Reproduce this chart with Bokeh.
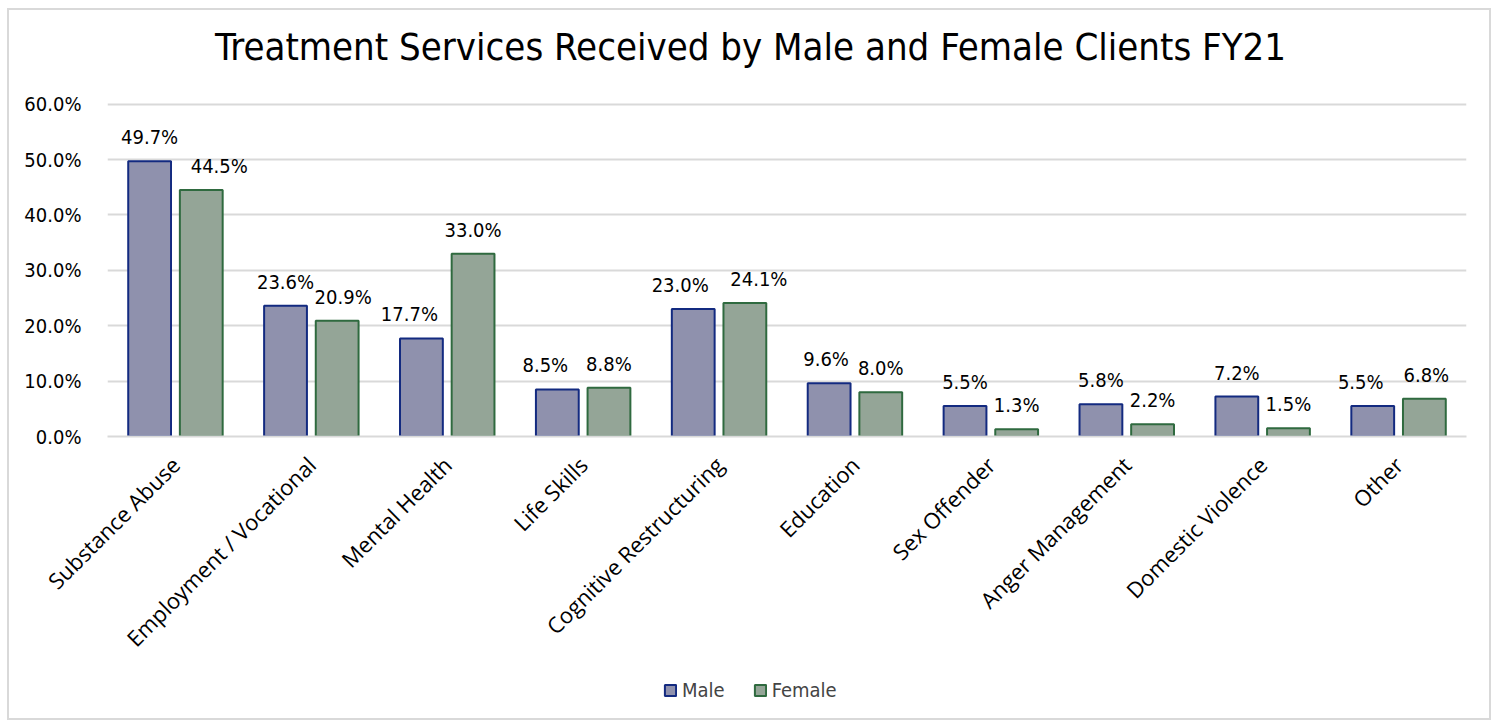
from bokeh.plotting import figure
from bokeh.layouts import column
from bokeh.models import (ColumnDataSource, FactorRange, LabelSet, Label, Legend, LegendItem,
                          PrintfTickFormatter, FixedTicker, Range1d)
from bokeh.core.properties import value
from bokeh.transform import dodge
from bokeh.embed import file_html
from bokeh.resources import INLINE

title_text = "Treatment Services Received by Male and Female Clients FY21"
categories = ["Substance Abuse", "Employment / Vocational", "Mental Health", "Life Skills",
              "Cognitive Restructuring", "Education", "Sex Offender", "Anger Management",
              "Domestic Violence", "Other"]
male = [49.7, 23.6, 17.7, 8.5, 23.0, 9.6, 5.5, 5.8, 7.2, 5.5]
female = [44.5, 20.9, 33.0, 8.8, 24.1, 8.0, 1.3, 2.2, 1.5, 6.8]
y_ticks = [0, 10, 20, 30, 40, 50, 60]
series_names = ["Male", "Female"]

# label nudges (pixels) as placed in the original chart
male_label_dx = [0, 0, -12, -12, -13, -3, 0, 0, 0, -12]
female_label_dx = [18, 6, 0, 0, 14, 0, 0, 0, 0, 2]

FONT = "DejaVu Sans Condensed"
XFONT = "Open Sans"
MALE_FILL, MALE_LINE = "#8f91ad", "#132a80"
FEMALE_FILL, FEMALE_LINE = "#94a597", "#2f6a3f"
W = 1480

# title strip (its frame is aligned with the chart frame by the column layout)
tt = figure(width=W, height=72, output_backend="svg", toolbar_location=None,
            x_range=Range1d(0, 1), y_range=Range1d(0, 1),
            x_axis_location=None, y_axis_location=None,
            min_border=0, min_border_left=0, min_border_right=0,
            min_border_top=0, min_border_bottom=0)
tt.grid.visible = False
tt.outline_line_color = None
tt.add_layout(Label(x=643, y=36, x_units="screen", y_units="screen", text=title_text,
                    text_align="center", text_baseline="alphabetic",
                    text_font=FONT, text_font_size="38px", text_color="#000000"))

src = ColumnDataSource(dict(cat=categories, male=male, female=female))

p = figure(x_range=FactorRange(*categories, range_padding=0), y_range=Range1d(0, 60.3),
           width=W, height=589, output_backend="svg", toolbar_location=None,
           min_border_left=98, min_border_right=23, min_border_top=20, min_border_bottom=235)
p.outline_line_color = None

rm = p.vbar(x=dodge("cat", -0.19, range=p.x_range), top="male", width=0.315, source=src,
            fill_color=MALE_FILL, line_color=MALE_LINE, line_width=2)
rf = p.vbar(x=dodge("cat", 0.19, range=p.x_range), top="female", width=0.315, source=src,
            fill_color=FEMALE_FILL, line_color=FEMALE_LINE, line_width=2)

for vals, off, dxs in ((male, -0.19, male_label_dx), (female, 0.19, female_label_dx)):
    lsrc = ColumnDataSource(dict(cat=categories, v=vals, t=["%.1f%%" % v for v in vals], dx=dxs))
    p.add_layout(LabelSet(x=dodge("cat", off, range=p.x_range),
                          y="v", text="t", x_offset="dx", source=lsrc,
                          text_align="center", text_baseline="bottom", y_offset=12,
                          text_font=value(FONT), text_font_size=value("20px"),
                          text_color="#000000"))

p.yaxis.ticker = FixedTicker(ticks=y_ticks)
p.yaxis.formatter = PrintfTickFormatter(format="%.1f%%")
p.yaxis.axis_line_color = None
p.yaxis.major_tick_line_color = None
p.yaxis.minor_tick_line_color = None
p.yaxis.major_label_text_font = FONT
p.yaxis.major_label_text_font_size = "20px"
p.yaxis.major_label_text_color = "#000000"
p.yaxis.major_label_standoff = 20

p.xaxis.axis_line_color = "#d9d9d9"
p.xaxis.axis_line_width = 2
p.xaxis.major_tick_line_color = None
p.xaxis.minor_tick_line_color = None
p.xaxis.major_label_orientation = 0.785398
p.xaxis.major_label_text_font = XFONT
p.xaxis.major_label_text_font_size = "22px"
p.xaxis.major_label_text_color = "#000000"
p.xaxis.major_label_standoff = 18

p.xgrid.grid_line_color = None
p.ygrid.grid_line_color = "#d9d9d9"
p.ygrid.grid_line_width = 2

# legend strip below the chart (legend renderers draw no bars: NaN heights)
legend_src = ColumnDataSource(dict(cat=[categories[0]], male=[float("nan")], female=[float("nan")]))
lg = figure(width=W, height=47, output_backend="svg", toolbar_location=None,
            x_range=p.x_range, y_range=Range1d(0, 1), min_border=0,
            min_border_left=0, min_border_right=0, min_border_top=0, min_border_bottom=0)
lg.axis.visible = False
lg.grid.visible = False
lg.outline_line_color = None
lm = lg.vbar(x="cat", top="male", width=0.315, source=legend_src,
             fill_color=MALE_FILL, line_color=MALE_LINE, line_width=2)
lf = lg.vbar(x="cat", top="female", width=0.315, source=legend_src,
             fill_color=FEMALE_FILL, line_color=FEMALE_LINE, line_width=2)
legend = Legend(items=[LegendItem(label=series_names[0], renderers=[lm]),
                       LegendItem(label=series_names[1], renderers=[lf])],
                orientation="horizontal", location=(556, 16),
                label_text_font=FONT, label_text_font_size="20px",
                glyph_width=14, glyph_height=14, spacing=28, padding=0, margin=0,
                label_standoff=5, border_line_color=None, background_fill_alpha=0)
lg.add_layout(legend, "center")

layout = column(tt, p, lg, spacing=0,
                styles={"margin-left": "7px", "margin-top": "8px",
                        "border": "2px solid #d9d9d9"})

open("out.html", "w").write(file_html(layout, INLINE))
